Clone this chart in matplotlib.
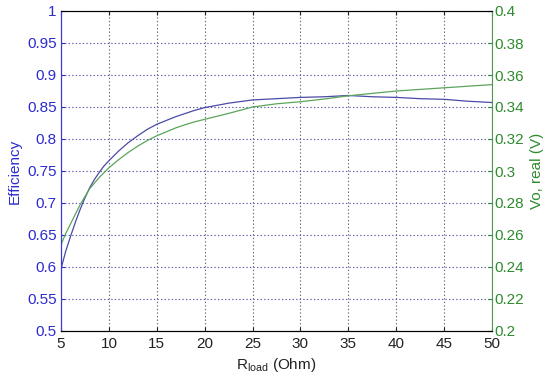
import matplotlib
matplotlib.use("Agg")
import matplotlib.pyplot as plt

plt.rcParams['font.family'] = ['Liberation Sans', 'DejaVu Sans']

r_load = [5, 5.5, 6, 6.5, 7, 7.5, 8, 8.5, 9, 9.5, 10, 11, 12, 13, 14, 15, 16, 17, 18, 19, 20,
          22.5, 25, 27.5, 30, 32.5, 35, 37.5, 40, 42.5, 45, 47.5, 50]
efficiency = [0.597, 0.625, 0.648, 0.670, 0.690, 0.708, 0.724, 0.737, 0.748, 0.758, 0.766,
              0.781, 0.794, 0.805, 0.815, 0.823, 0.829, 0.835, 0.840, 0.845, 0.849,
              0.856, 0.861, 0.863, 0.865, 0.866, 0.868, 0.866, 0.865, 0.863, 0.862, 0.859, 0.857]
vo_real = [0.254, 0.261, 0.267, 0.273, 0.279, 0.284, 0.289, 0.2925, 0.296, 0.299, 0.302,
           0.307, 0.3115, 0.3155, 0.319, 0.322, 0.3245, 0.327, 0.329, 0.3308, 0.3323,
           0.336, 0.340, 0.342, 0.3433, 0.345, 0.347, 0.3485, 0.350, 0.351, 0.352, 0.353, 0.354]

x_ticks = [5, 10, 15, 20, 25, 30, 35, 40, 45, 50]
eff_ticks = [0.5, 0.55, 0.6, 0.65, 0.7, 0.75, 0.8, 0.85, 0.9, 0.95, 1]
vo_ticks = [0.2, 0.22, 0.24, 0.26, 0.28, 0.3, 0.32, 0.34, 0.36, 0.38, 0.4]

blue_txt = '#2b2bd0'
green_txt = '#2e8b2e'
blue_line = '#4a4aa8'
green_line = '#5aa55a'

fig = plt.figure(figsize=(5.5, 3.79), dpi=100)
ax = fig.add_axes([61/550, 1 - 331/379, (492-61)/550, (331-11)/379])
ax2 = ax.twinx()

ax.plot(r_load, efficiency, color=blue_line, lw=0.9)
ax2.plot(r_load, vo_real, color=green_line, lw=0.9)

ax.set_xlim(5, 50)
ax.set_ylim(0.5, 1)
ax2.set_ylim(0.2, 0.4)
ax.set_xticks(x_ticks)
ax.set_xticklabels([str(v) for v in x_ticks])
ax.set_yticks(eff_ticks)
ax.set_yticklabels(['0.5', '0.55', '0.6', '0.65', '0.7', '0.75', '0.8', '0.85', '0.9', '0.95', '1'])
ax2.set_yticks(vo_ticks)
ax2.set_yticklabels(['0.2', '0.22', '0.24', '0.26', '0.28', '0.3', '0.32', '0.34', '0.36', '0.38', '0.4'])

fs = 11
ax.tick_params(axis='x', direction='in', labelsize=fs, colors='#222222', top=True, length=3, pad=4)
ax.tick_params(axis='y', direction='in', labelsize=fs, colors=blue_txt, length=3, pad=3)
ax2.tick_params(axis='y', direction='in', labelsize=fs, colors=green_txt, length=3, pad=2)

ax.yaxis.grid(True, linestyle=(0, (1.2, 2)), color='#5a5aa8', lw=0.8)
ax.xaxis.grid(True, linestyle=(0, (1.2, 2)), color='#666677', lw=0.8)
ax.set_axisbelow(True)

for s in ['top', 'bottom']:
    ax.spines[s].set_color('#333344')
ax.spines['left'].set_color('#3a3acc')
ax2.spines['left'].set_color('#3a3acc')
ax2.spines['right'].set_color('#4a9a4a')
ax.spines['right'].set_visible(False)
for a in (ax, ax2):
    for s in a.spines.values():
        s.set_linewidth(0.8)

ax.set_ylabel('Efficiency', color=blue_txt, fontsize=fs, labelpad=4)
ax2.set_ylabel('Vo, real (V)', color=green_txt, fontsize=fs, labelpad=4)
ax.set_xlabel('R$_{\\mathregular{load}}$ (Ohm)', color='#222222', fontsize=fs, labelpad=4)

fig.savefig('out.png', dpi=100)
